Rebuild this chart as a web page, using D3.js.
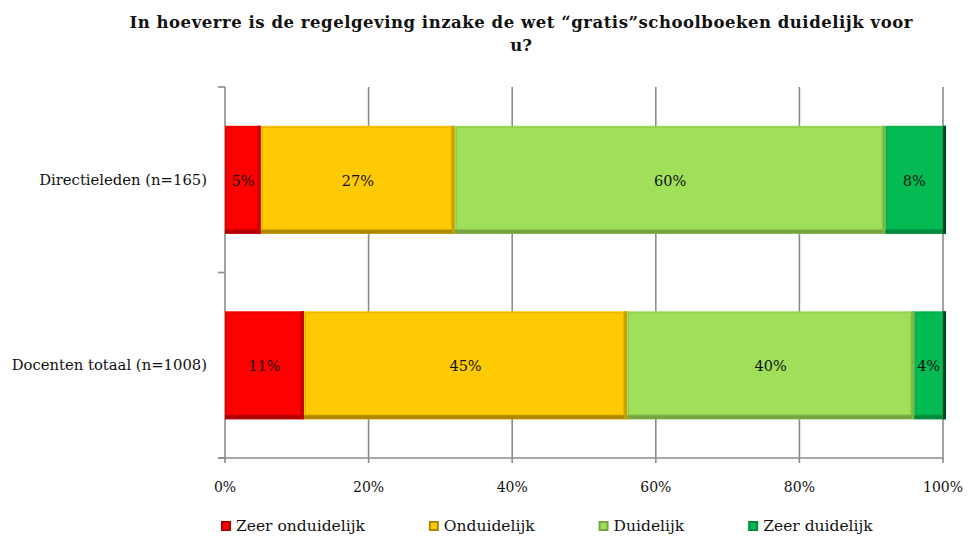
<!DOCTYPE html>
<html>
<head>
<meta charset="utf-8">
<script src="https://cdn.jsdelivr.net/npm/d3@7"></script>
<style>
  body { margin: 0; background: #fff; }
  svg text { font-family: "DejaVu Serif", serif; fill: #111; }
</style>
</head>
<body>
<svg id="chart" width="968" height="536"></svg>
<script>
// ---------- data ----------
let groups = ['Directieleden (n=165)', 'Docenten totaal (n=1008)']
let answers = ['Zeer onduidelijk', 'Onduidelijk', 'Duidelijk', 'Zeer duidelijk']
let directieleden = [5, 27, 60, 8]
let docenten = [11, 45, 40, 4]
let xTicks = [0, 20, 40, 60, 80, 100]
let titleLines = ['In hoeverre is de regelgeving inzake de wet \u201cgratis\u201dschoolboeken duidelijk voor', 'u?']

let fills = ['#ff0000', '#fdca03', '#9fdf5a', '#03bb52']
let darks = ['#b00000', '#b08800', '#75a543', '#008a3a']
let edges = ['#c80000', '#c99f00', '#7fb348', '#00471f']

let rows = [directieleden, docenten]

// ---------- layout ----------
let svg = d3.select('#chart')

let x = d3.scaleLinear().domain([0, 100]).range([225, 943])
let y = d3.scaleBand().domain(groups).range([87, 458])
	.paddingInner(0.418).paddingOuter(0.209)

let gridColor = '#8c8c8c'

// title
svg.append('g').selectAll('text').data(titleLines)
	.enter().append('text')
	.attr('x', 521)
	.attr('y', (d, i) => 28 + i * 23)
	.attr('text-anchor', 'middle')
	.attr('font-size', '16.5px')
	.attr('font-weight', 'bold')
	.attr('textLength', (d, i) => i == 0 ? 783 : null)
	.attr('lengthAdjust', 'spacing')
	.text(d => d)

// gridlines (behind bars) + bottom ticks
let grid = svg.append('g').attr('class', 'grid')
grid.selectAll('line').data(xTicks.slice(1))
	.enter().append('line')
	.attr('x1', d => x(d)).attr('x2', d => x(d))
	.attr('y1', 87).attr('y2', 463)
	.attr('stroke', gridColor).attr('stroke-width', 1.6)

// y axis
let yAxisG = svg.append('g')
yAxisG.append('line')
	.attr('x1', x(0)).attr('x2', x(0)).attr('y1', 87).attr('y2', 463)
	.attr('stroke', gridColor).attr('stroke-width', 1.6)
let yBounds = [87, 87 + y.step(), 458]
yAxisG.selectAll('.ytick').data(yBounds)
	.enter().append('line')
	.attr('x1', x(0) - 7).attr('x2', x(0))
	.attr('y1', d => d).attr('y2', d => d)
	.attr('stroke', gridColor).attr('stroke-width', 1.6)

// x axis line
svg.append('line')
	.attr('x1', x(0) - 7).attr('x2', x(100))
	.attr('y1', 458).attr('y2', 458)
	.attr('stroke', gridColor).attr('stroke-width', 1.6)

// x tick labels
svg.append('g').selectAll('text').data(xTicks)
	.enter().append('text')
	.attr('x', d => x(d))
	.attr('y', 492)
	.attr('text-anchor', 'middle')
	.attr('font-size', '14px')
	.text(d => d + '%')

// y labels
svg.append('g').selectAll('text').data(groups)
	.enter().append('text')
	.attr('x', 207)
	.attr('y', d => y(d) + y.bandwidth() / 2 + 5)
	.attr('text-anchor', 'end')
	.attr('font-size', '14.8px')
	.text(d => d)

// bars with bevel
function drawBevel(g, x0, y0, w, h, i) {
	g.append('rect').attr('x', x0).attr('y', y0).attr('width', w).attr('height', h)
		.attr('fill', fills[i])
	// inner shade line
	g.append('rect').attr('x', x0 + 1.5).attr('y', y0 + 1.5)
		.attr('width', Math.max(0, w - 5)).attr('height', Math.max(0, h - 6))
		.attr('fill', 'none').attr('stroke', darks[i]).attr('stroke-opacity', 0.35)
	// bottom strip
	g.append('rect').attr('x', x0).attr('y', y0 + h - 4).attr('width', w).attr('height', 4)
		.attr('fill', darks[i])
	// right strip
	g.append('rect').attr('x', x0 + w - 3).attr('y', y0).attr('width', 3).attr('height', h)
		.attr('fill', edges[i])
}

rows.forEach((vals, r) => {
	let g = svg.append('g').attr('class', 'row' + r)
	let cum = 0
	vals.forEach((v, i) => {
		let x0 = x(cum), x1 = x(cum + v)
		drawBevel(g, x0, y(groups[r]), x1 - x0 + (i == vals.length - 1 ? 3 : 0), y.bandwidth(), i)
		g.append('text')
			.attr('x', (x0 + x1) / 2)
			.attr('y', y(groups[r]) + y.bandwidth() / 2 + 6)
			.attr('text-anchor', 'middle')
			.attr('font-size', '14.5px')
			.text(Math.round(v) + '%')
		cum += v
	})
})

// legend
let legend = svg.append('g').attr('class', 'legend')
let lx = 221
answers.forEach((a, i) => {
	let item = legend.append('g').attr('transform', `translate(${lx},521)`)
	item.append('rect').attr('width', 10).attr('height', 10).attr('fill', darks[i])
	item.append('rect').attr('x', 2).attr('y', 2).attr('width', 6).attr('height', 6).attr('fill', fills[i])
	let t = item.append('text').attr('x', 15).attr('y', 10)
		.attr('font-size', '15.5px').text(a)
	lx += 15 + t.node().getComputedTextLength() + 64
})
</script>
</body>
</html>
